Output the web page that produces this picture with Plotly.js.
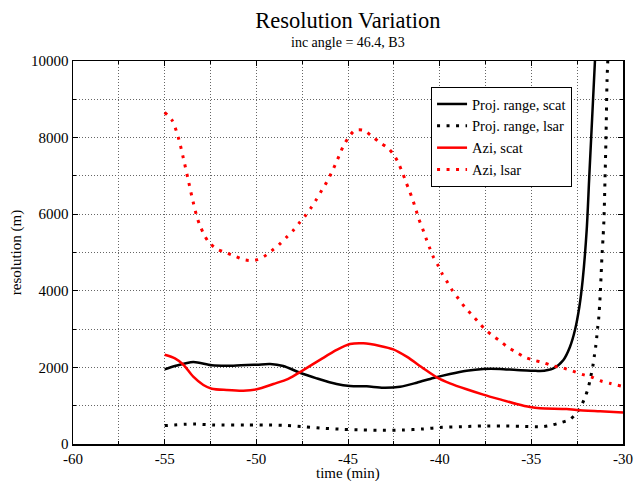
<!DOCTYPE html>
<html>
<head>
<meta charset="utf-8">
<script src="https://cdn.plot.ly/plotly-3.0.1.min.js"></script>
<style>html,body{margin:0;padding:0;background:#fff;}#chart{width:636px;height:481px;}</style>
</head>
<body>
<div id="chart"></div>
<script>
// Proj. range, scat (black solid)
const projScatT = [-55, -54.44, -53.44, -52.43, -51.25, -49.98, -49.25, -48.53, -47.62, -46.71, -45.62, -44.89, -43.98, -43.07, -42.16, -41.25, -40.34, -39.44, -38.53, -37.62, -36.71, -35.80, -34.89, -34.53, -33.80, -33.25, -32.89, -32.62, -32.38, -32.20, -31.98, -31.84, -31.53, -31.40];
const projScatR = [1950, 2036, 2141, 2055, 2045, 2070, 2089, 2036, 1860, 1715, 1565, 1515, 1505, 1470, 1495, 1600, 1725, 1830, 1915, 1960, 1960, 1930, 1915, 1905, 1975, 2195, 2540, 2975, 3585, 4280, 5590, 6980, 10000, 11300];

// Proj. range, lsar (black dotted)
const projLsarT = [-55, -53.9, -53.33, -52.26, -50.62, -49.56, -48.47, -47.38, -46.29, -45.29, -44.2, -43.11, -42.02, -40.93, -39.87, -38.78, -37.69, -36.60, -35.54, -34.43, -33.89, -33.40, -32.89, -32.53, -32.24, -32.03, -31.87, -31.76, -31.65, -31.57, -31.49, -31.43, -31.38, -31.32, -31.25, -31.20, -31.15, -31.09, -31.04, -30.98, -30.93, -30.87, -30.83];
const projLsarR = [480, 515, 520, 495, 495, 495, 488, 452, 410, 383, 365, 357, 365, 392, 435, 452, 470, 470, 462, 452, 495, 557, 645, 817, 1036, 1271, 1514, 1757, 2018, 2280, 2540, 2800, 3046, 3307, 3830, 4334, 4875, 5371, 5849, 6937, 7937, 9504, 10000];

// Azi, scat (red solid)
const aziScatT = [-55, -54.44, -53.98, -53.44, -52.89, -52.43, -51.62, -50.71, -49.98, -49.07, -48.26, -47.44, -46.53, -45.62, -44.89, -44.16, -43.25, -42.53, -41.80, -40.89, -40.16, -39.44, -38.53, -37.62, -36.71, -35.80, -35.07, -34.53, -33.07, -32.53, -31.25, -30.0];
const aziScatR = [2330, 2235, 2070, 1757, 1540, 1444, 1410, 1392, 1428, 1566, 1700, 1930, 2195, 2455, 2610, 2630, 2560, 2470, 2280, 1975, 1740, 1585, 1430, 1290, 1165, 1045, 965, 932, 915, 888, 855, 825];

// Azi, lsar (red dotted)
const aziLsarT = [-55, -54.58, -54.23, -53.98, -53.74, -53.51, -53.25, -53.07, -52.85, -52.56, -52.15, -51.64, -51.15, -50.62, -50.09, -49.60, -49.18, -48.76, -48.36, -48.0, -47.66, -47.33, -47.0, -46.71, -46.43, -46.16, -45.91, -45.69, -45.47, -45.26, -44.98, -44.62, -44.13, -43.71, -43.27, -42.83, -42.47, -42.23, -42.02, -41.84, -41.64, -41.45, -41.29, -41.13, -40.93, -40.75, -40.56, -40.36, -40.09, -39.86, -39.56, -39.29, -38.96, -38.63, -38.27, -37.91, -37.54, -37.13, -36.71, -36.29, -35.82, -35.35, -34.84, -34.34, -33.80, -33.29, -32.76, -32.25, -31.76, -31.25, -30.73, -30.0];
const aziLsarR = [8660, 8440, 7960, 7460, 6950, 6450, 5945, 5700, 5465, 5250, 5090, 4995, 4900, 4805, 4795, 4890, 5040, 5205, 5395, 5570, 5770, 5960, 6180, 6395, 6625, 6840, 7075, 7300, 7540, 7775, 7995, 8190, 8190, 8040, 7875, 7730, 7530, 7310, 7075, 6840, 6600, 6350, 6110, 5865, 5620, 5380, 5135, 4900, 4665, 4440, 4210, 3995, 3785, 3575, 3385, 3195, 3000, 2835, 2690, 2530, 2395, 2265, 2185, 2125, 2035, 1990, 1905, 1820, 1757, 1653, 1585, 1500];

const seriesNames = ["Proj. range, scat", "Proj. range, lsar", "Azi, scat", "Azi, lsar"];
const xTickVals = [-60, -55, -50, -45, -40, -35, -30];
const yTickVals = [0, 2000, 4000, 6000, 8000, 10000];

const serif = "Liberation Serif";
const dotDash = "3px,6.5px";
const gridDash = "1px,2px";
const gridColor = "#666";

const traces = [
  {x: projScatT, y: projScatR, name: seriesNames[0], mode: "lines", line: {color: "#000", width: 2.5, shape: "spline", smoothing: 0.8}},
  {x: projLsarT, y: projLsarR, name: seriesNames[1], mode: "lines", line: {color: "#000", width: 3, dash: dotDash, shape: "spline", smoothing: 0.8}},
  {x: aziScatT, y: aziScatR, name: seriesNames[2], mode: "lines", line: {color: "#ff0000", width: 2.5, shape: "spline", smoothing: 0.8}},
  {x: aziLsarT, y: aziLsarR, name: seriesNames[3], mode: "lines", line: {color: "#ff0000", width: 3, dash: dotDash, shape: "spline", smoothing: 0.8}}
];

const axisCommon = {
  showline: true, linecolor: "#000", linewidth: 1.5, mirror: "allticks",
  ticks: "inside", ticklen: 5, tickcolor: "#000",
  showgrid: true, gridcolor: gridColor, griddash: gridDash, gridwidth: 1,
  zeroline: false,
  tickfont: {family: serif, size: 15, color: "#000"}
};

const layout = {
  width: 636, height: 481,
  margin: {l: 73, r: 13, t: 61, b: 37},
  paper_bgcolor: "#fff", plot_bgcolor: "#fff",
  font: {family: serif, color: "#000"},
  showlegend: true,
  title: {text: "Resolution Variation", font: {family: serif, size: 22.5, color: "#000"}, x: 0.547, xanchor: "center", y: 0.958, yanchor: "middle"},
  xaxis: Object.assign({}, axisCommon, {
    range: [-60, -30], tickvals: xTickVals, ticktext: xTickVals.map(String),
    minor: {dtick: 2.5, tick0: -60, showgrid: true, gridcolor: gridColor, griddash: gridDash, gridwidth: 1, ticks: "inside", ticklen: 3, tickcolor: "#000"}
  }),
  yaxis: Object.assign({}, axisCommon, {
    range: [0, 10000], tickvals: yTickVals, ticktext: yTickVals.map(String),
    minor: {dtick: 1000, tick0: 0, showgrid: true, gridcolor: gridColor, griddash: gridDash, gridwidth: 1, ticks: "inside", ticklen: 3, tickcolor: "#000"},
    title: {text: "resolution (m)", font: {family: serif, size: 15, color: "#000"}, standoff: 6}
  }),
  legend: {
    x: 0.651, y: 0.932, xanchor: "left", yanchor: "top",
    bgcolor: "#fff", bordercolor: "#000", borderwidth: 1,
    font: {family: serif, size: 14.5, color: "#000"},
    tracegroupgap: 0, itemwidth: 30
  },
  annotations: [
    {text: "inc angle = 46.4, B3", xref: "paper", yref: "paper", x: 0.5, y: 1.047, xanchor: "center", yanchor: "middle", showarrow: false, font: {family: serif, size: 14, color: "#000"}},
    {text: "time (min)", xref: "paper", yref: "paper", x: 0.5, y: -0.077, xanchor: "center", yanchor: "middle", showarrow: false, font: {family: serif, size: 15, color: "#000"}}
  ]
};

Plotly.newPlot("chart", traces, layout, {staticPlot: true, displayModeBar: false});
</script>
</body>
</html>
